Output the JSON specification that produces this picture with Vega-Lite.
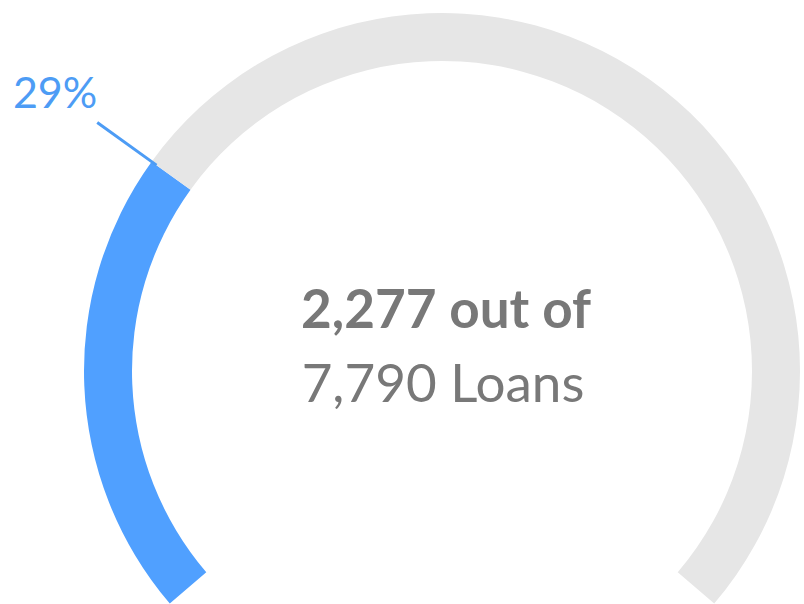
{
  "$schema": "https://vega.github.io/schema/vega-lite/v6.json",
  "width": 884,
  "height": 742,
  "autosize": {"type": "none"},
  "padding": {"left": 0, "top": 0, "right": -80, "bottom": -138},
  "background": "white",
  "config": {"view": {"stroke": null}, "font": "Lato"},
  "datasets": {
    "segments": [
      {"part": "Completed", "start": 0, "end": 2277},
      {"part": "Remaining", "start": 2277, "end": 7790}
    ],
    "summary": [
      {"done": 2277, "total": 7790, "pct": 0.2923, "line1": "2,277 out of", "line2": "7,790 Loans"}
    ]
  },
  "layer": [
    {
      "data": {"name": "segments"},
      "mark": {"type": "arc", "radius": 358, "radius2": 310},
      "encoding": {
        "theta": {"field": "start", "type": "quantitative", "stack": null,
          "scale": {"domain": [0, 7790], "range": [-2.2777, 2.2777]}},
        "theta2": {"field": "end"},
        "color": {"field": "part", "type": "nominal", "legend": null,
          "scale": {"domain": ["Completed", "Remaining"], "range": ["#50A0FF", "#E6E6E6"]}}
      }
    },
    {
      "data": {"name": "summary"},
      "mark": {"type": "arc", "radius": 425, "radius2": 352, "fillOpacity": 0, "stroke": "#4D9CF5", "strokeWidth": 3},
      "encoding": {
        "theta": {"field": "done", "type": "quantitative", "stack": null},
        "theta2": {"field": "done"}
      }
    },
    {
      "data": {"name": "summary"},
      "mark": {"type": "text", "radius": 425, "align": "right", "baseline": "alphabetic", "dy": -14, "fontSize": 43, "color": "#4D9CF5"},
      "encoding": {
        "theta": {"field": "done", "type": "quantitative", "stack": null},
        "text": {"field": "pct", "type": "quantitative", "format": ".0%"}
      }
    },
    {
      "data": {"name": "summary"},
      "mark": {"type": "text", "align": "center", "baseline": "alphabetic", "dy": -43, "dx": 4, "fontSize": 53, "fontWeight": "bold", "color": "#787878"},
      "encoding": {"text": {"field": "line1", "type": "nominal"}}
    },
    {
      "data": {"name": "summary"},
      "mark": {"type": "text", "align": "center", "baseline": "alphabetic", "dy": 31, "dx": 1, "fontSize": 53, "color": "#787878"},
      "encoding": {"text": {"field": "line2", "type": "nominal"}}
    }
  ]
}
